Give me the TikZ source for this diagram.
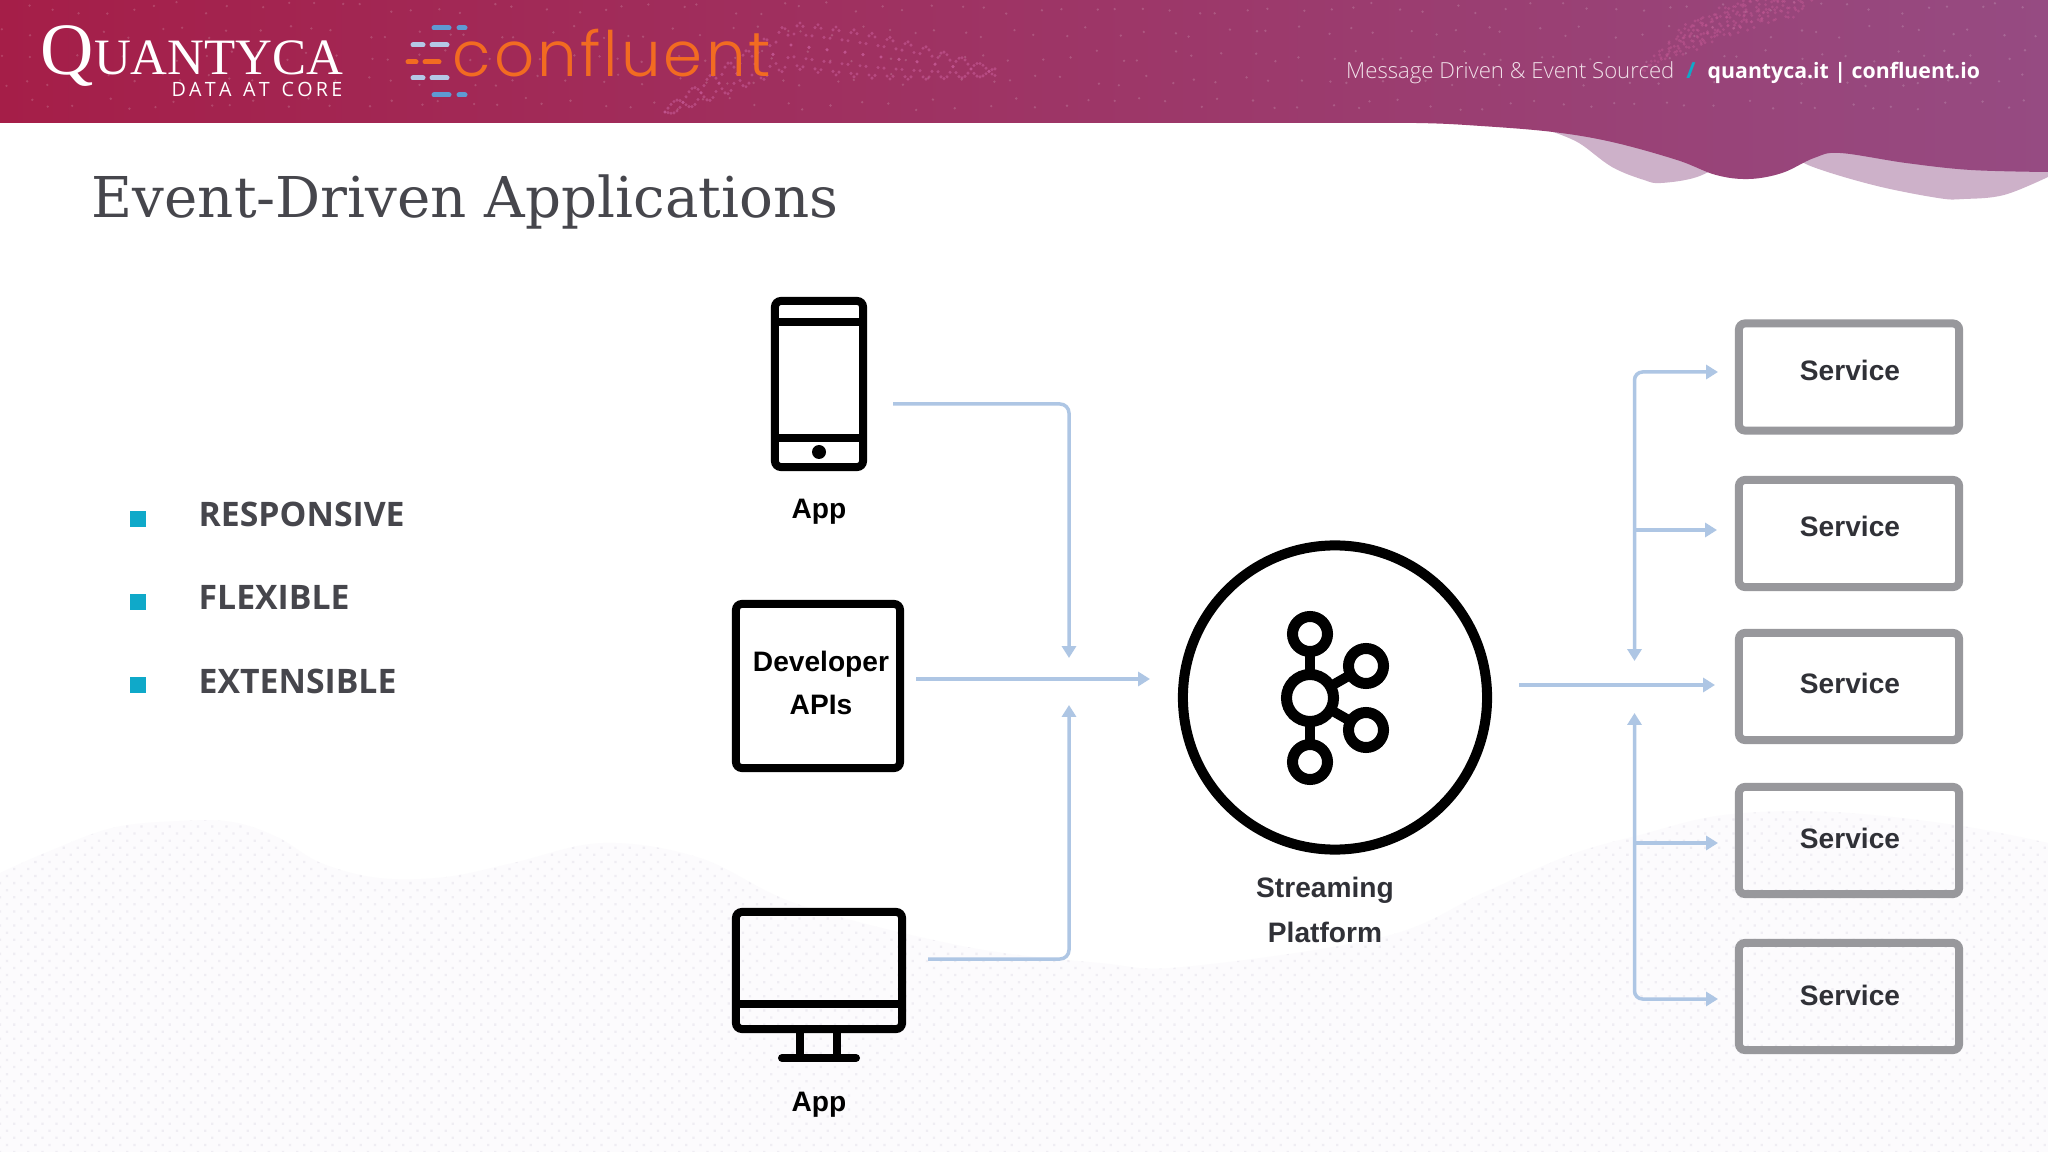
\documentclass[tikz,border=0pt]{standalone}
\usepackage{fontspec}
\setmainfont{Liberation Sans}
\newfontfamily\slabfont{DejaVu Serif}
\newfontfamily\logofont{Liberation Serif}
\newfontfamily\bandfont{Open Sans}
\newfontfamily\bandlight{Open Sans Light}
\newfontfamily\brandfont[LetterSpace=5]{Poppins Light}
\usetikzlibrary{arrows.meta,positioning,shapes,patterns.meta}

\definecolor{hdrL}{HTML}{A51E48}
\definecolor{hdrM}{HTML}{A5386C}
\definecolor{hdrR}{HTML}{964B82}
\definecolor{hdrBack}{HTML}{CDB1C9}
\definecolor{hdrDot}{HTML}{C65A96}
\definecolor{flowblue}{HTML}{AEC6E4}
\definecolor{boxgrey}{HTML}{98989C}
\definecolor{inkgrey}{HTML}{46464C}
\definecolor{inkdark}{HTML}{303137}
\definecolor{teal}{HTML}{0FA9C9}
\definecolor{orangeC}{HTML}{F26B21}
\definecolor{dashblue}{HTML}{5F9AD2}
\definecolor{dashpale}{HTML}{B4C8E6}
\definecolor{waveBase}{HTML}{FCFBFD}
\definecolor{waveDot}{HTML}{EFEDF3}

\tikzset{
  flowline/.style={draw=flowblue, line width=0.035cm, -{Triangle[length=3.4pt,width=4pt]}},
  flowboth/.style={draw=flowblue, line width=0.035cm, {Triangle[length=3.4pt,width=4pt]}-{Triangle[length=3.4pt,width=4pt]}},
  iconbox/.style={draw=black, line width=0.08cm, rounded corners=0.06cm, inner sep=0, outer sep=0},
  servicebox/.style={draw=boxgrey, line width=0.08cm, rounded corners=0.06cm, inner sep=0, outer sep=0, minimum width=2.2cm, minimum height=1.07cm},
  broker/.style={draw=black, line width=0.11cm, circle, inner sep=0, outer sep=0},
  boldlabel/.style={anchor=base, inner sep=0, font=\bfseries\fontsize{8}{12}\selectfont},
  listlabel/.style={anchor=base west, inner sep=0, text=inkgrey, font=\bandfont\bfseries\fontsize{9.6}{12}\selectfont},
  bullet/.style={fill=teal, inner sep=0, minimum size=0.16cm},
  logodash/.style={line width=0.05cm, line cap=round},
}

\begin{document}
\begin{tikzpicture}[x=0.01cm, y=-0.01cm]
\useasboundingbox (0,0) rectangle (2048,1152);
\fill[white] (0,0) rectangle (2048,1152);

% light wave at the bottom
\def\waveline{(0,873) (45,853) (112,828) (179,821) (232,822) (277,837) (321,863) (379,878) (446,877) (513,863) (603,843) (700,858) (800,905) (967,947) (1100,963) (1183,967) (1383,937) (1483,893) (1570,855) (1640,835) (1724,815) (1832,812) (1955,825) (2048,843)}
\fill[waveBase] (0,1152) -- plot[smooth, tension=0.6] coordinates {\waveline} -- (2048,1152) -- cycle;
\fill[pattern={Dots[radius=0.016cm, distance=0.1cm, angle=45]}, pattern color=waveDot] (0,1152) -- plot[smooth, tension=0.6] coordinates {\waveline} -- (2048,1152) -- cycle;

% header band
\fill[hdrBack] (1553,120) -- plot[smooth, tension=0.6] coordinates {(1553,132) (1579,143) (1612,167) (1644,180) (1661,183) (1697,177) (1730,160)} -- (1730,120) -- cycle;
\fill[hdrBack] (1790,120) -- plot[smooth, tension=0.6] coordinates {(1790,150) (1808,165) (1873,185) (1938,198) (1964,199) (2004,195) (2048,177)} -- (2048,120) -- cycle;
\shade[left color=hdrL, middle color=hdrM, right color=hdrR] (0,0) -- (2048,0) -- plot[smooth, tension=0.6] coordinates {(2048,172) (1971,170) (1906,163) (1840,153) (1814,158) (1782,173) (1749,179) (1716,175) (1677,160) (1612,142) (1553,132) (1481,126) (1416,123) (1300,123)} -- (0,123) -- cycle;

% dots on the band
\pgfmathsetseed{7}
\foreach \x in {0,26,...,2040} {
  \foreach \y in {8,32,...,112} {
    \pgfmathsetmacro{\xdot}{\x + 9*rand}
    \pgfmathsetmacro{\ydot}{\y + 6*rand}
    \fill[white, opacity=0.16] (\xdot,\ydot) circle (1.3);
  }
}
\foreach \i in {0,...,110} {
  \pgfmathsetmacro{\xdot}{665 + 3*\i}
  \pgfmathsetmacro{\amp}{4 + 20*sin(1.64*\i)}
  \pgfmathsetmacro{\ymid}{max(112 - 1.6*\i, 45 + 0.4*(\i - 42))}
  \pgfmathsetmacro{\yA}{\ymid + \amp*sin(30*\i)}
  \pgfmathsetmacro{\yB}{\ymid - \amp*sin(30*\i)}
  \fill[hdrDot, opacity=0.6] (\xdot,\yA) circle (1.7);
  \fill[hdrDot, opacity=0.6] (\xdot,\yB) circle (1.7);
}
\foreach \k in {0,...,9} {
  \foreach \i in {0,...,26} {
    \pgfmathsetmacro{\xdot}{1640 + 5*\k + 6*\i + 3*rand}
    \pgfmathsetmacro{\ydot}{72 - 3*\i + 0.03*\i*\i - 5*\k + 3*rand}
    \fill[hdrDot, opacity=0.45] (\xdot,\ydot) circle (1.6);
  }
}

% logos
\node[anchor=base west, inner sep=0, text=white, font=\logofont] (quantyca) at (40,75) {\fontsize{21}{21}\selectfont Q\fontsize{14.5}{14}\selectfont UANTYCA};
\node[anchor=base east, inner sep=0, text=white, font=\bandfont\fontsize{5.6}{7}\selectfont] (coreline) at (343,97) {D\,A\,T\,A\, \,A\,T\, \,C\,O\,R\,E};
\foreach \y/\dcol/\xa/\xb/\xc/\xd in {28/dashblue/434/449/459/465, 45/dashpale/413/423/432/447, 62/orangeC/408/416/425/439, 78/dashpale/413/423/432/447, 95/dashblue/434/449/459/465} {
  \draw[logodash, \dcol] (\xa,\y) -- (\xb,\y);
  \draw[logodash, \dcol] (\xc,\y) -- (\xd,\y);
}
\node[anchor=base west, inner sep=0, text=orangeC, font=\brandfont\fontsize{17.8}{20}\selectfont] (brand) at (452,77) {confluent};

% top right line
\node[anchor=base east, inner sep=0, text=white!85!hdrM, font=\bandlight\fontsize{6.3}{8}\selectfont] (tagline) at (1675,79) {Message Driven \& Event Sourced};
\node[anchor=base, inner sep=0, text=teal, font=\bandfont\bfseries\fontsize{6.3}{8}\selectfont] (slash) at (1691,79) {/};
\node[anchor=base west, inner sep=0, text=white, font=\bandfont\bfseries\fontsize{6.05}{8}\selectfont] (sitelinks) at (1707,79) {quantyca.it | confluent.io};

% title
\node[anchor=base west, inner sep=0, text=inkgrey, font=\slabfont\fontsize{16}{18}\selectfont] (heading) at (91,218) {Event-Driven Applications};

% list on the left
\foreach \name/\y/\word in {resp/527/RESPONSIVE, flex/610/FLEXIBLE, ext/693/EXTENSIBLE} {
  \pgfmathsetmacro{\ybul}{\y - 8}
  \node[bullet] (\name mark) at (138,\ybul) {};
  \node[listlabel] (\name) at (198,\y) {\word};
}

% phone
\node[iconbox, minimum width=0.88cm, minimum height=1.66cm] (phone) at (819,384) {};
\draw[line width=0.08cm] (phone.west |- 0,322) -- (phone.east |- 0,322);
\draw[line width=0.08cm] (phone.west |- 0,438) -- (phone.east |- 0,438);
\fill (819,452) circle (7);
\node[boldlabel, text=black] (phoneLabel) at (819,519) {App};

% developer APIs
\node[iconbox, minimum width=1.64cm, minimum height=1.64cm] (apis) at (818,686) {};
\node[boldlabel, text=black] (apisTop) at (821,672) {Developer};
\node[boldlabel, text=black] (apisBot) at (821,714) {APIs};

% desktop
\node[iconbox, minimum width=1.66cm, minimum height=1.17cm] (desktop) at (819,970.5) {};
\draw[line width=0.08cm] (desktop.west |- 0,1004) -- (desktop.east |- 0,1004);
\draw[line width=0.08cm] (800,1033) -- (800,1058);
\draw[line width=0.08cm] (837,1033) -- (837,1058);
\draw[line width=0.08cm, line cap=round] (782,1058) -- (856,1058);
\node[boldlabel, text=black] (desktopLabel) at (819,1111) {App};

% platform
\node[draw=black, line width=0.1cm, circle, inner sep=0, outer sep=0, minimum size=3.04cm] (platform) at (1335,697.5) {};
\node[broker, minimum size=0.47cm] (hub) at (1310,698) {};
\node[broker, minimum size=0.35cm] (kTop) at (1310,634) {};
\node[broker, minimum size=0.35cm] (kBot) at (1310,762) {};
\node[broker, minimum size=0.35cm] (kUp) at (1366,666) {};
\node[broker, minimum size=0.35cm] (kDown) at (1366,730) {};
\foreach \leaf in {kTop,kBot,kUp,kDown} {
  \draw[line width=0.1cm] (hub) -- (\leaf);
}
\node[boldlabel, text=inkdark] (platTop) at (1325,897) {Streaming};
\node[boldlabel, text=inkdark] (platBot) at (1325,942) {Platform};

% services
\foreach \name/\y/\ybase in {svcA/377/381, svcB/533.5/537, svcC/686.5/693, svcD/840.5/848, svcE/996.5/1005} {
  \node[servicebox] (\name) at (1849,\y) {};
  \node[boldlabel, text=inkdark] (\name text) at (1850,\ybase) {Service};
}

% arrows into the platform
\coordinate (phoneOut) at (893,404);
\coordinate (joinUp) at (1069,658);
\coordinate (apisOut) at (916,679);
\coordinate (joinIn) at (1150,679);
\coordinate (desktopOut) at (928,959);
\coordinate (joinDown) at (1069,705);
\draw[flowline, rounded corners=0.09cm] (phoneOut) -| (joinUp);
\draw[flowline] (apisOut) -- (joinIn);
\draw[flowline, rounded corners=0.09cm] (desktopOut) -| (joinDown);

% arrows to the services
\coordinate (busOut) at (1519,685);
\coordinate (svcCIn) at (1715,685);
\coordinate (svcAIn) at (1718,372);
\coordinate (busUpEnd) at (1634.5,661);
\coordinate (busDownEnd) at (1634.5,713);
\coordinate (svcBIn) at (1717,530);
\coordinate (svcBJoin) at (1634.5,530);
\coordinate (svcDIn) at (1718,843);
\coordinate (svcDJoin) at (1634.5,843);
\coordinate (svcEIn) at (1718,999);
\draw[flowline] (busOut) -- (svcCIn);
\draw[flowboth, rounded corners=0.08cm] (busUpEnd) |- (svcAIn);
\draw[flowline] (svcBJoin) -- (svcBIn);
\draw[flowboth, rounded corners=0.08cm] (busDownEnd) |- (svcEIn);
\draw[flowline] (svcDJoin) -- (svcDIn);
\end{tikzpicture}
\end{document}
